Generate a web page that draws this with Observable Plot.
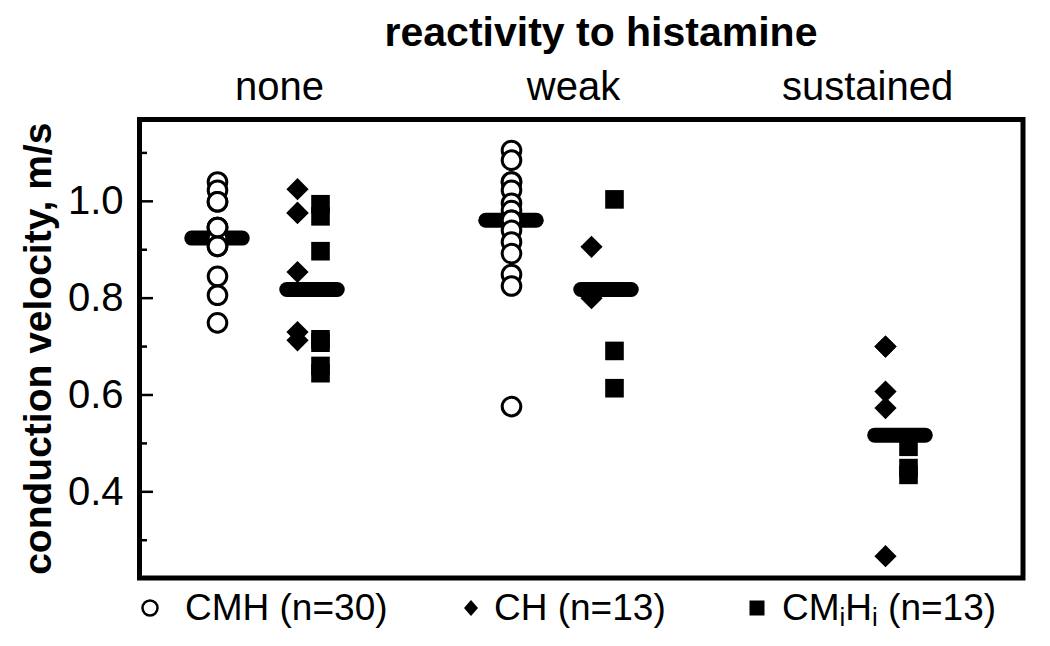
<!DOCTYPE html>
<html>
<head>
<meta charset="utf-8">
<script src="https://cdn.jsdelivr.net/npm/d3@7"></script>
<script src="https://cdn.jsdelivr.net/npm/@observablehq/plot@0.6"></script>
<style>
  html, body { margin: 0; padding: 0; background: #fff; }
  body { font-family: "Liberation Sans", Arial, Helvetica, sans-serif; color: #000; }
  #wrap { width: 1050px; height: 646px; position: relative; overflow: hidden; }
  #title { width: 1050px; height: 64px; line-height: 64px; font-size: 41px; font-weight: bold;
           text-align: center; padding-left: 152px; box-sizing: border-box; white-space: nowrap; }
  #legend { position: relative; width: 1050px; height: 58px; font-size: 37px; }
  #legend .txt { position: absolute; top: 0; line-height: 40px; white-space: nowrap; }
  #legend svg { position: absolute; overflow: visible; }
  #legend sub { font-size: 0.7em; vertical-align: -0.22em; line-height: 0; }
</style>
</head>
<body>
<div id="wrap">
  <div id="title">reactivity to histamine</div>
  <div id="chart"></div>
  <div id="legend"></div>
</div>
<script>
// ---- data ----
const reactivity = ["none", "weak", "sustained"];

// CMH (open circles), n = 30 (some values coincide)
const cmhNone = [1.040, 1.023, 0.999, 0.946, 0.946, 0.924, 0.924, 0.924, 0.907, 0.907, 0.845, 0.806, 0.749, 0.946, 0.999];
const cmhWeak = [1.105, 1.085, 1.040, 1.040, 1.023, 0.996, 0.981, 0.961, 0.961, 0.940, 0.916, 0.892, 0.849, 0.825, 0.576];

// CH (filled diamonds), n = 13
const chNone = [1.025, 0.976, 0.976, 0.854, 0.730, 0.713];
const chWeak = [0.906, 0.800];
const chSustained = [0.700, 0.700, 0.607, 0.573, 0.267];

// CMiHi (filled squares), n = 13
const cmihiNone = [0.994, 0.969, 0.897, 0.715, 0.708, 0.660, 0.645];
const cmihiWeak = [1.004, 0.691, 0.614];
const cmihiSustained = [0.493, 0.449, 0.435];

// median bars
const medianCMH = [0.924, 0.961];            // none, weak
const medianCHCMiHi = [0.818, 0.818, 0.517]; // none, weak, sustained

const yTickLabels = [0.4, 0.6, 0.8, 1.0];
const yTicksMinor = [0.3, 0.5, 0.7, 0.9, 1.1];
const yLabel = "conduction velocity, m/s";

// ---- tables built from the arrays ----
const rows = (groups, lists) => lists.flatMap((vals, i) => vals.map(v => ({group: groups[i], v})));
const cmhRows = rows(reactivity, [cmhNone, cmhWeak]);
const chRows = rows(reactivity, [chNone, chWeak, chSustained]);
const cmihiRows = rows(reactivity, [cmihiNone, cmihiWeak, cmihiSustained]);
const medCMHRows = medianCMH.map((v, i) => ({group: reactivity[i], v}));
const medCHRows = medianCHCMiHi.map((v, i) => ({group: reactivity[i], v}));

// ---- layout ----
const W = 1050, H = 524, mL = 139, mR = 27.5, mT = 55, mB = 10.5;
const plotW = W - mL - mR;
const bandW = plotW / reactivity.length;
const barLen = 51;
const barInset = (bandW - barLen) / 2;

const chart = Plot.plot({
  width: W, height: H,
  marginLeft: mL, marginRight: mR, marginTop: mT, marginBottom: mB,
  style: {fontFamily: "Liberation Sans, Arial, Helvetica, sans-serif", color: "#000", background: "#fff", overflow: "visible"},
  x: {type: "band", domain: reactivity, padding: 0},
  y: {domain: [0.222, 1.169]},
  marks: [
    // median bars
    Plot.tickY(medCMHRows, {x: "group", y: "v", stroke: "#000", strokeWidth: 15, strokeLinecap: "round",
      insetLeft: barInset, insetRight: barInset, dx: -70}),
    Plot.tickY(medCHRows, {x: "group", y: "v", stroke: "#000", strokeWidth: 15, strokeLinecap: "round",
      insetLeft: barInset, insetRight: barInset, dx: 25}),
    // data points
    Plot.dot(chRows, {x: "group", y: "v", symbol: "diamond2", r: 10, fill: "#000", stroke: "none", dx: 10}),
    Plot.dot(cmihiRows, {x: "group", y: "v", symbol: "square", r: 10.5, fill: "#000", stroke: "none", dx: 33}),
    Plot.dot(cmhRows, {x: "group", y: "v", r: 9.3, fill: "#fff", stroke: "#000", strokeWidth: 3, dx: -70}),
    // inward ticks
    Plot.ruleY(yTickLabels, {y: d => d, stroke: "#000", strokeWidth: 2.5, insetRight: plotW - 14}),
    Plot.ruleY(yTicksMinor, {y: d => d, stroke: "#000", strokeWidth: 2.5, insetRight: plotW - 8}),
    // axes
    Plot.axisY(yTickLabels, {anchor: "left", tickSize: 0, tickPadding: 16, fontSize: 40,
      tickFormat: d3.format(".1f"), label: null}),
    Plot.axisX({anchor: "top", tickSize: 0, tickPadding: 20, fontSize: 40, dx: -8, label: null}),
    Plot.text([yLabel], {text: d => d, frameAnchor: "left", textAnchor: "middle", rotate: -90, dx: -101,
      fontSize: 39, fontWeight: "bold", fill: "#000"}),
    Plot.frame({stroke: "#000", strokeWidth: 5})
  ]
});
document.getElementById("chart").appendChild(chart);

// ---- legend ----
const legendItems = [
  {sym: "circle", html: "CMH (n=30)", sx: 150, tx: 185},
  {sym: "diamond", html: "CH (n=13)", sx: 471, tx: 494},
  {sym: "square", html: "CM<sub>i</sub>H<sub>i</sub> (n=13)", sx: 757, tx: 782}
];
const leg = document.getElementById("legend");
for (const it of legendItems) {
  const s = document.createElementNS("http://www.w3.org/2000/svg", "svg");
  s.setAttribute("width", 24); s.setAttribute("height", 24);
  s.style.left = (it.sx - 12) + "px"; s.style.top = "8px";
  let shape;
  if (it.sym === "circle") {
    shape = `<circle cx="12" cy="12" r="7.5" fill="#fff" stroke="#000" stroke-width="2.5"/>`;
  } else if (it.sym === "diamond") {
    shape = `<path d="M12,4 L19,12 L12,20 L5,12 Z" fill="#000"/>`;
  } else {
    shape = `<rect x="4.5" y="4.5" width="15" height="15" fill="#000"/>`;
  }
  s.innerHTML = shape;
  leg.appendChild(s);
  const t = document.createElement("div");
  t.className = "txt";
  t.style.left = it.tx + "px";
  t.innerHTML = it.html;
  leg.appendChild(t);
}
</script>
</body>
</html>
